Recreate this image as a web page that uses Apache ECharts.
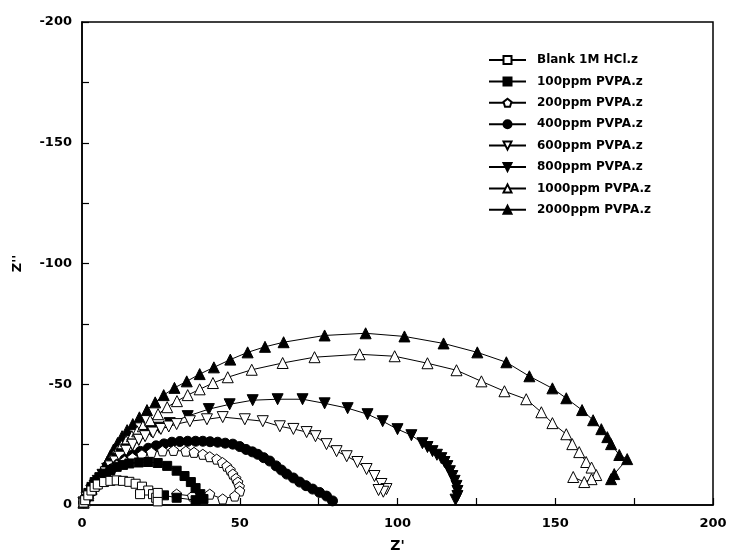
<!DOCTYPE html>
<html>
<head>
<meta charset="utf-8">
<script src="https://cdn.jsdelivr.net/npm/echarts@6/dist/echarts.min.js"></script>
<style>html,body{margin:0;padding:0;background:#fff}#c{width:739px;height:558px}</style>
</head>
<body>
<div id="c"></div>
<script>
// Series names
const seriesNames = ["Blank 1M HCl.z","100ppm PVPA.z","200ppm PVPA.z","400ppm PVPA.z","600ppm PVPA.z","800ppm PVPA.z","1000ppm PVPA.z","2000ppm PVPA.z"];
// Data: [Z', Z''] (Z'' negative)
const blank = [[0.5,-1],[1,-2],[2,-4],[3,-6],[4,-7.5],[5,-8.5],[7,-9.5],[9,-10],[11,-10.2],[13,-10],[15,-9.6],[17,-8.8],[19,-7.6],[21,-6],[22.5,-4.5],[23.5,-3],[24,-1.5],[24,-5],[18.4,-4.5]];
const ppm100 = [[0.5,-1],[1,-2],[2,-5],[3,-7.5],[4,-9.5],[5.5,-11.5],[7,-13],[9,-14.5],[11,-15.8],[13,-16.6],[15,-17.2],[18,-17.6],[21,-17.8],[24,-17.4],[27,-16.2],[30,-14.2],[32.5,-12],[34.5,-9.5],[36,-7],[37.5,-4.5],[38.5,-2.5],[36,-2],[30,-3],[26,-4]];
const ppm200 = [[0.5,-1],[1.5,-3],[2.5,-5.5],[4,-8],[5.5,-10.5],[7,-12.5],[9,-14.5],[11,-16.5],[13.5,-18.2],[16,-19.5],[19,-20.8],[22,-21.8],[25.5,-22.4],[29,-22.6],[32.9,-22.3],[35.5,-21.8],[38.3,-21],[40.5,-20],[42.7,-19],[44.5,-17.6],[45.9,-16.1],[47,-14.5],[47.8,-12.8],[48.8,-11],[49.4,-9.5],[49.9,-7.6],[50,-5.8],[48.4,-3.7],[44.6,-2.5],[40.5,-4.5],[35,-3.7],[30,-4.5]];
const ppm400 = [[0.5,-1],[1.5,-3],[3,-5.5],[4.5,-8],[6,-10.5],[7.5,-12.5],[9.5,-15],[11.5,-17],[13.5,-18.8],[16,-20.7],[18.5,-22.2],[21,-23.5],[23.5,-24.5],[26,-25.3],[28.5,-26],[31,-26.3],[33.5,-26.4],[36,-26.4],[38.3,-26.4],[40.6,-26.2],[43,-26],[45.4,-25.6],[47.8,-25.2],[50,-24.2],[52,-23],[54,-22],[55.7,-21],[57.6,-19.6],[59.5,-18.2],[61.5,-16.2],[63.2,-14.5],[64.9,-12.8],[67,-11.2],[69,-9.5],[71,-8],[73.1,-6.6],[75.3,-5.2],[77.5,-3.7],[79.4,-1.7]];
const ppm600 = [[0.5,-1],[1.5,-3],[3,-6],[4.5,-8.5],[6,-11],[7.5,-13.5],[9,-16],[10.5,-18],[12,-20],[14,-22.5],[16,-25],[18,-27],[20,-28.5],[22.5,-30],[25,-31.5],[27.5,-32.5],[30,-33.5],[34.2,-34.7],[39.6,-35.5],[44.6,-36.4],[51.6,-35.5],[57.3,-34.7],[62.7,-32.6],[67,-31.5],[71.2,-30.2],[74,-28.5],[77.5,-25.2],[80.7,-22.3],[83.9,-20.2],[87.3,-17.8],[90.2,-14.9],[92.7,-12],[94.9,-8.7],[96.5,-6.6],[95.5,-5.5],[94,-6.2]];
const ppm800 = [[0.5,-1],[1.5,-3],[3,-6],[4,-8],[5,-10],[6.5,-12.5],[8,-15],[9.5,-17],[11,-19],[12.5,-21],[14,-23],[16,-25],[18,-27],[20,-29],[22,-30.5],[24.5,-32],[27.8,-33.9],[33.5,-36.8],[40.2,-39.7],[46.8,-41.7],[54.1,-43.4],[62,-43.8],[69.9,-43.8],[76.9,-42.1],[84.2,-40.1],[90.5,-37.6],[95.3,-34.7],[100,-31.4],[104.4,-28.9],[107.9,-25.6],[109.5,-24],[111.1,-22.3],[112.5,-20.8],[113.9,-19.4],[114.9,-17.8],[115.8,-16.1],[116.6,-14],[117.4,-12],[118.1,-10],[118.7,-7.9],[119,-5.8],[119,-3.7],[118.4,-2.2]];
const ppm1000 = [[0.5,-1],[1,-2],[2,-5],[3,-7],[4,-9],[5,-11],[6,-13],[7,-15],[8,-17],[9,-18.8],[10,-20.5],[11.2,-22.5],[12.5,-24.5],[14,-26.5],[15.8,-28.5],[17.5,-30.5],[19.3,-32.6],[21.6,-35],[24.1,-37.6],[27,-40.5],[30.1,-43],[33.5,-45.5],[37.3,-47.9],[41.5,-50.5],[46.2,-52.9],[53.8,-56],[63.6,-58.8],[73.7,-61.2],[88,-62.4],[99.1,-61.6],[109.5,-58.7],[118.7,-55.8],[126.6,-51.2],[133.9,-47.1],[140.8,-43.8],[145.6,-38.4],[149.1,-33.9],[153.5,-29.3],[155.4,-25.2],[157.6,-21.9],[159.8,-17.8],[161.5,-15.5],[163,-12.4],[161.5,-10.7],[159.2,-9.5],[155.7,-11.6]];
const ppm2000 = [[0.5,-1],[1,-2],[2,-4],[3,-6.5],[4,-8.5],[5,-11],[6,-13],[7,-15.5],[8,-18],[9,-20.5],[10,-23],[11.3,-25.7],[12.7,-28.5],[14.3,-31],[16.1,-33.5],[18.2,-36.3],[20.6,-39.3],[23.2,-42.5],[25.9,-45.5],[29.3,-48.5],[33.2,-51.2],[37.3,-54.2],[41.8,-57],[47,-60.2],[52.5,-63.2],[58,-65.5],[63.9,-67.4],[76.9,-70.2],[89.9,-71.1],[102.2,-69.8],[114.6,-66.9],[125.3,-63.2],[134.5,-59.1],[141.8,-53.3],[149.1,-48.3],[153.5,-44.2],[158.5,-39.3],[162,-35.1],[164.6,-31.4],[166.5,-28.1],[167.7,-25.2],[170.3,-20.7],[172.8,-19],[168.7,-12.8],[167.7,-10.7]];
// Axis ticks
const xTicks = [0,50,100,150,200];
const yTicks = [-200,-150,-100,-50,0];

const font = "DejaVu Sans";
const triDown = 'path://M0,10 L-10,-7 L10,-7 Z';
const pent = 'path://M0,-10 L9.5,-3.1 L5.9,8.1 L-5.9,8.1 L-9.5,-3.1 Z';
const styles = [
  {data: blank, symbol:'rect', fill:'#fff', size:9},
  {data: ppm100, symbol:'rect', fill:'#000', size:9},
  {data: ppm200, symbol:pent, fill:'#fff', size:10},
  {data: ppm400, symbol:'circle', fill:'#000', size:10},
  {data: ppm600, symbol:triDown, fill:'#fff', size:11},
  {data: ppm800, symbol:triDown, fill:'#000', size:11},
  {data: ppm1000, symbol:'triangle', fill:'#fff', size:11},
  {data: ppm2000, symbol:'triangle', fill:'#000', size:11}
];
const series = styles.map((s,i)=>({
  name: seriesNames[i], type:'line', data:s.data, symbol:s.symbol, symbolSize:s.size,
  showAllSymbol:true, smooth:false, animation:false,
  lineStyle:{color:'#000', width:1},
  itemStyle:{color:s.fill, borderColor:'#000', borderWidth:1},
  z: 10 - i
}));

const chart = echarts.init(document.getElementById('c'), null, {renderer:'canvas'});
chart.setOption({
  backgroundColor:'#fff',
  animation:false,
  grid:{left:82, right:26, top:22, bottom:52, show:true, borderColor:'#000', borderWidth:1.5, backgroundColor:'transparent'},
  legend:{
    orient:'vertical', left:483, top:49, itemWidth:37, itemHeight:10, itemGap:9.4,
    data: seriesNames,
    textStyle:{fontFamily:font, fontWeight:'bold', fontSize:12, color:'#000', padding:[0,0,0,6]}
  },
  xAxis:{
    type:'value', min:0, max:200, interval:25,
    name:"Z'", nameLocation:'middle', nameGap:34,
    nameTextStyle:{fontFamily:font, fontWeight:'bold', fontSize:14, color:'#000'},
    axisLine:{lineStyle:{color:'#000', width:1.5}},
    axisTick:{inside:true, length:7, lineStyle:{color:'#000', width:1.2}},
    axisLabel:{fontFamily:font, fontWeight:'bold', fontSize:13, color:'#000', margin:12,
      formatter:v=> xTicks.includes(v) ? String(v) : ''},
    splitLine:{show:false}
  },
  yAxis:{
    type:'value', min:-200, max:0, interval:25, inverse:true,
    name:"Z''", nameLocation:'middle', nameGap:58, nameRotate:90,
    nameTextStyle:{fontFamily:font, fontWeight:'bold', fontSize:13, color:'#000'},
    axisLine:{lineStyle:{color:'#000', width:1.5}},
    axisTick:{inside:true, length:7, lineStyle:{color:'#000', width:1.2}},
    axisLabel:{fontFamily:font, fontWeight:'bold', fontSize:13, color:'#000', margin:10,
      formatter:v=> yTicks.includes(v) ? String(v) : ''},
    splitLine:{show:false}
  },
  series: series
});
</script>
</body>
</html>
